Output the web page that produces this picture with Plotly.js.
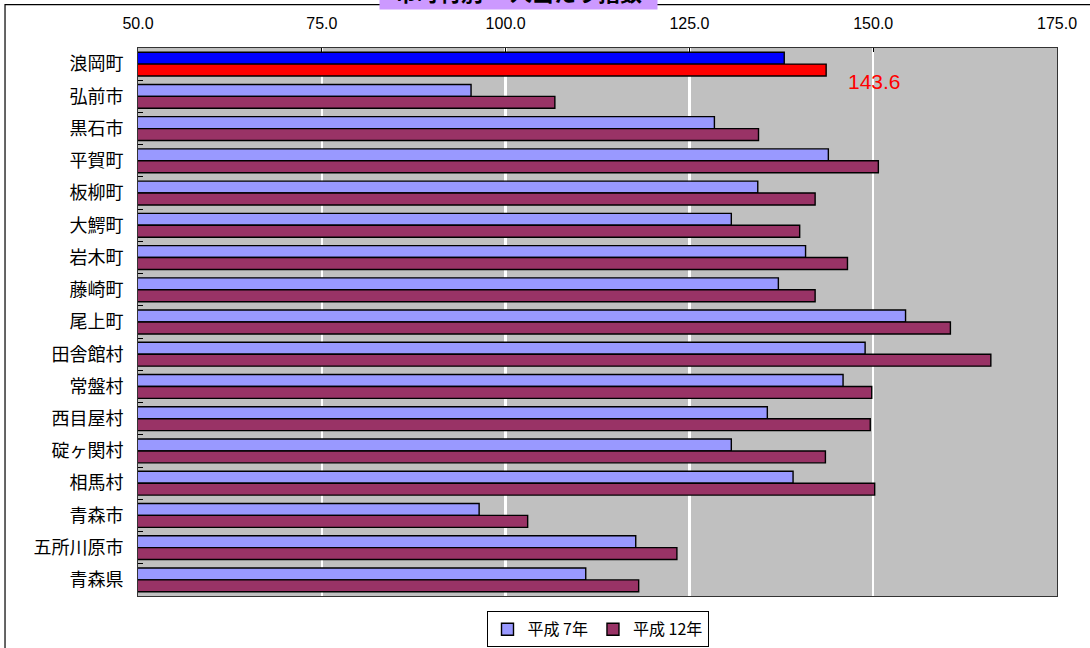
<!DOCTYPE html>
<html>
<head>
<meta charset="utf-8">
<script src="https://cdn.plot.ly/plotly-3.0.1.min.js"></script>
<style>
  html, body { margin: 0; padding: 0; background: #ffffff; }
  #chart { width: 1090px; height: 648px; }
</style>
</head>
<body>
<div id="chart"></div>
<script>
// Municipalities, top to bottom
const municipalities = [
  "浪岡町", "弘前市", "黒石市", "平賀町", "板柳町", "大鰐町", "岩木町", "藤崎町",
  "尾上町", "田舎館村", "常盤村", "西目屋村", "碇ヶ関村", "相馬村", "青森市",
  "五所川原市", "青森県"
];

// Index values per year
const valuesH7 = [
  137.9, 95.3, 128.4, 143.9, 134.3, 130.7, 140.8, 137.1,
  154.4, 148.9, 145.9, 135.6, 130.7, 139.1, 96.4,
  117.7, 110.9
];
const valuesH12 = [
  143.6, 106.7, 134.4, 150.7, 142.1, 140.0, 146.5, 142.1,
  160.5, 166.0, 149.8, 149.6, 143.5, 150.2, 103.0,
  123.3, 118.1
];

const seriesNames = ["平成 7年", "平成 12年"];
const xTicks = [50, 75, 100, 125, 150, 175];
const highlighted = "浪岡町";
const chartTitle = "市町村別 一人当たり指数";

const barLine = { color: "#000000", width: 1.4 };

// Split each series into the highlighted municipality and the rest,
// keeping both parts in the same offset group so they share one bar slot.
function pick(values, keepHighlighted) {
  const ys = [], xs = [];
  municipalities.forEach((m, i) => {
    if ((m === highlighted) === keepHighlighted) { ys.push(m); xs.push(values[i]); }
  });
  return { y: ys, x: xs };
}

function barTrace(values, name, group, color, isHighlight) {
  const d = pick(values, isHighlight);
  return {
    type: "bar", orientation: "h",
    name: name, legendgroup: group, offsetgroup: group,
    showlegend: !isHighlight,
    y: d.y, x: d.x,
    marker: { color: color, line: barLine }
  };
}

const traces = [
  barTrace(valuesH7, seriesNames[0], "h7", "#9999FF", false),
  barTrace(valuesH12, seriesNames[1], "h12", "#993366", false),
  barTrace(valuesH7, seriesNames[0], "h7", "#0000FF", true),
  barTrace(valuesH12, seriesNames[1], "h12", "#FF0000", true)
];

const hiIdx = municipalities.indexOf(highlighted);
const n = municipalities.length;

const layout = {
  width: 1090, height: 648,
  margin: { l: 138, r: 33, t: 48, b: 52, autoexpand: false },
  paper_bgcolor: "rgba(0,0,0,0)",
  plot_bgcolor: "#C0C0C0",
  barmode: "group",
  bargap: 0.26,
  bargroupgap: 0,
  showlegend: true,
  font: { family: "Liberation Sans, Arial, sans-serif", color: "#000000" },
  xaxis: {
    side: "top",
    range: [xTicks[0], xTicks[xTicks.length - 1]],
    autorange: false,
    tickvals: xTicks,
    tickformat: ".1f",
    ticks: "inside", ticklen: 4, tickcolor: "#000000",
    ticklabelstandoff: 12,
    tickfont: { family: "Liberation Sans, Arial, sans-serif", size: 16, color: "#000000" },
    showgrid: true, gridcolor: "#FFFFFF", gridwidth: 2.5,
    showline: true, linecolor: "#333333", linewidth: 1, mirror: true,
    zeroline: false, fixedrange: true
  },
  yaxis: {
    type: "category",
    categoryorder: "array",
    categoryarray: municipalities,
    range: [n - 0.5, -0.5],
    autorange: false,
    ticks: "inside", ticklen: 5, tickcolor: "#000000",
    tickson: "boundaries",
    ticklabelstandoff: 10,
    tickfont: { family: "Noto Sans CJK JP, sans-serif", size: 18, color: "#000000" },
    showgrid: false,
    showline: true, linecolor: "#333333", linewidth: 1, mirror: true,
    fixedrange: true
  },
  legend: {
    orientation: "h",
    x: 0.5, xanchor: "center",
    y: -0.028, yanchor: "top",
    bgcolor: "#FFFFFF",
    bordercolor: "#000000", borderwidth: 1,
    font: { family: "Noto Sans CJK JP, sans-serif", size: 16, color: "#000000" },
    itemwidth: 30,
    traceorder: "normal"
  },
  shapes: [
    {
      type: "rect", xref: "paper", yref: "paper",
      x0: -0.1447, x1: 1.1, y0: -0.25, y1: 1.0793,
      line: { color: "#000000", width: 1.2 },
      fillcolor: "rgba(0,0,0,0)",
      layer: "below"
    }
  ],
  annotations: [
    {
      // value label next to the highlighted bar
      x: valuesH12[hiIdx], y: highlighted,
      xref: "x", yref: "y",
      text: valuesH12[hiIdx].toFixed(1),
      showarrow: false,
      xanchor: "left", yanchor: "middle",
      xshift: 20, yshift: -17,
      font: { family: "Liberation Sans, Arial, sans-serif", size: 21, color: "#FF0000" }
    },
    {
      // chart heading
      x: 0.4143, y: 1.0685,
      xref: "paper", yref: "paper",
      xanchor: "center", yanchor: "bottom",
      text: "<b>" + chartTitle + "</b>",
      showarrow: false,
      width: 275, height: 34,
      bgcolor: "#CC99FF",
      borderpad: 1,
      font: { family: "Noto Sans CJK JP, sans-serif", size: 22, color: "#000000" }
    }
  ]
};

Plotly.newPlot("chart", traces, layout, { displayModeBar: false, staticPlot: true });
</script>
</body>
</html>
